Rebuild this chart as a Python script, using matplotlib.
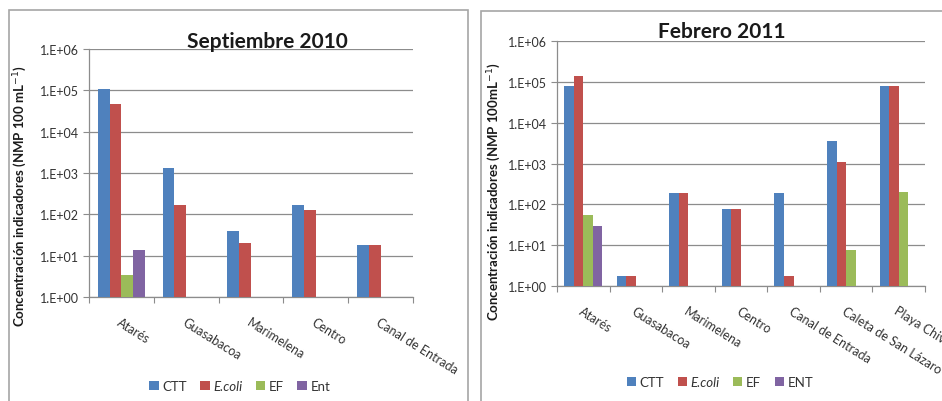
import matplotlib
matplotlib.use("Agg")
import matplotlib.pyplot as plt
import numpy as np
from matplotlib.patches import Rectangle
from matplotlib.ticker import FixedLocator, FuncFormatter

plt.rcParams['font.family'] = ['Lato', 'DejaVu Sans']

# Septiembre 2010
sites_sep = ["Atarés", "Guasabacoa", "Marimelena", "Centro", "Canal de Entrada"]
ctt_sep = [110000, 1300, 40, 170, 18]
ecoli_sep = [48000, 170, 20, 130, 18]
ef_sep = [3.5, None, None, None, None]
ent_sep = [13.5, None, None, None, None]

# Febrero 2011
sites_feb = ["Atarés", "Guasabacoa", "Marimelena", "Centro", "Canal de Entrada",
             "Caleta de San Lázaro", "Playa Chivo"]
ctt_feb = [80000, 1.8, 190, 78, 190, 3500, 80000]
ecoli_feb = [140000, 1.8, 190, 78, 1.8, 1100, 80000]
ef_feb = [56, None, None, None, None, 7.8, 200]
ent_feb = [30, None, None, None, None, None, None]

colors = ["#4F81BD", "#C0504D", "#9BBB59", "#8064A2"]
grid_c = "#8C8C8C"

W, H = 942, 402
fig = plt.figure(figsize=(W / 100, H / 100), dpi=100)


def px_axes(x0, y0, x1, y1):
    return fig.add_axes([x0 / W, 1 - y1 / H, (x1 - x0) / W, (y1 - y0) / H])


def frame(x0, y0, x1, y1):
    fig.patches.append(Rectangle((x0 / W, 1 - y1 / H), (x1 - x0) / W, (y1 - y0) / H,
                                 transform=fig.transFigure, fill=False,
                                 edgecolor="#A6A6A6", linewidth=1.2, zorder=0))


def sci(v, pos):
    e = int(round(np.log10(v)))
    return "1.E+%02d" % e


def draw(ax, sites, series, names):
    n = len(sites)
    x = np.arange(n)
    bw = 1 / 5.5
    for i, (vals, col) in enumerate(zip(series, colors)):
        off = (i - 1.5) * bw
        xs = [xi + off for xi, v in zip(x, vals) if v is not None]
        hs = [v - 1 for v in vals if v is not None]
        ax.bar(xs, hs, bottom=1, width=bw, color=col, label=names[i], zorder=3)
    ax.set_yscale("log")
    ax.set_ylim(1, 1e6)
    ax.set_xlim(-0.5, n - 0.5)
    ax.yaxis.set_major_locator(FixedLocator([10.0 ** k for k in range(7)]))
    ax.yaxis.set_minor_locator(FixedLocator([]))
    ax.yaxis.set_major_formatter(FuncFormatter(sci))
    ax.grid(axis="y", color=grid_c, linewidth=0.9, zorder=0)
    for s in ("top", "right"):
        ax.spines[s].set_visible(False)
    for s in ("left", "bottom"):
        ax.spines[s].set_color(grid_c)
        ax.spines[s].set_linewidth(0.9)
    ax.tick_params(axis="y", length=4, color=grid_c, labelsize=9, labelcolor="#333333", pad=3)
    ax.set_xticks(np.arange(n + 1) - 0.5)
    ax.set_xticklabels([])
    ax.tick_params(axis="x", which="major", length=4, color=grid_c)
    ax.set_xticks(x, minor=True)
    ax.set_xticklabels(sites, minor=True, rotation=-32, ha="left", va="top",
                       rotation_mode="anchor", fontsize=9, color="#333333")
    ax.tick_params(axis="x", which="minor", length=0, pad=13)


# left panel
frame(9, 11, 468, 420)
ax1 = px_axes(89, 50, 413, 298)
draw(ax1, sites_sep, [ctt_sep, ecoli_sep, ef_sep, ent_sep], ["CTT", "E.coli", "EF", "Ent"])
fig.text(267 / W, 1 - 42 / H, "Septiembre 2010", ha="center", va="center",
         fontsize=15, fontweight="bold", color="#1a1a1a")
fig.text(20 / W, 1 - 196 / H, "Concentración indicadores (NMP 100 mL$^{-1}$)",
         rotation=90, ha="center", va="center", fontsize=9.5, fontweight="bold", color="#1a1a1a")

# right panel
frame(481, 12, 960, 420)
ax2 = px_axes(557, 42, 925, 287)
draw(ax2, sites_feb, [ctt_feb, ecoli_feb, ef_feb, ent_feb], ["CTT", "E.coli", "EF", "ENT"])
fig.text(722 / W, 1 - 32 / H, "Febrero 2011", ha="center", va="center",
         fontsize=15, fontweight="bold", color="#1a1a1a")
fig.text(494 / W, 1 - 192 / H, "Concentración indicadores (NMP 100mL$^{-1}$)",
         rotation=90, ha="center", va="center", fontsize=9.5, fontweight="bold", color="#1a1a1a")

for ax, xc, yc in ((ax1, 240, 387), (ax2, 720, 383)):
    leg = ax.legend(loc="center", bbox_to_anchor=(xc / W, 1 - yc / H),
                    bbox_transform=fig.transFigure, ncol=4, frameon=False,
                    fontsize=9.5, handlelength=0.7, handleheight=0.7,
                    handletextpad=0.3, columnspacing=1.0)
    for t in leg.get_texts():
        t.set_color("#333333")
        if t.get_text() == "E.coli":
            t.set_fontstyle("italic")

fig.savefig("out.png", dpi=100)
